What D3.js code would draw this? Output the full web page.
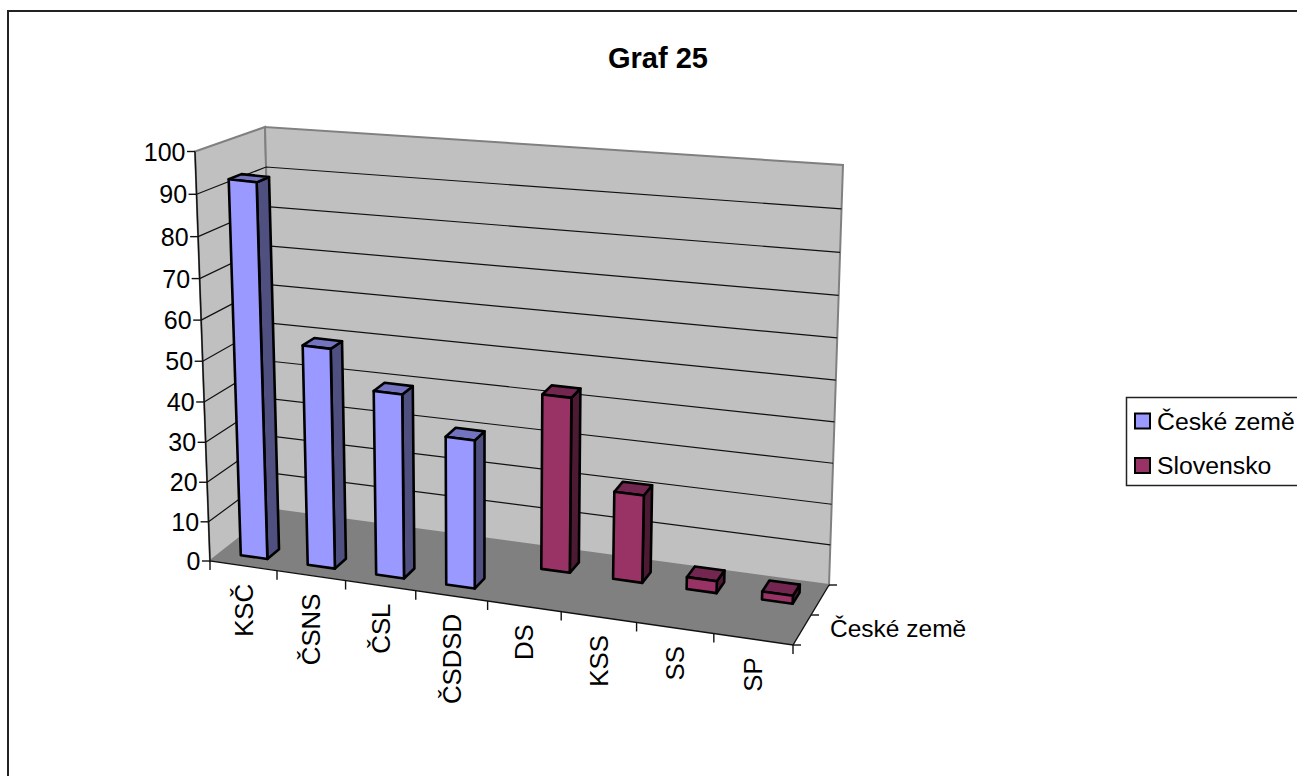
<!DOCTYPE html>
<html>
<head>
<meta charset="utf-8">
<script src="https://cdn.jsdelivr.net/npm/d3@7"></script>
<style>
  html, body { margin: 0; padding: 0; background: #fff; overflow: hidden; }
  text { font-family: "Liberation Sans", Arial, sans-serif; fill: #000; }
</style>
</head>
<body>
<div id="graph"></div>
<script>
const categories = ["KSČ", "ČSNS", "ČSL", "ČSDSD", "DS", "KSS", "SS", "SP"];
const seriesNames = ["České země", "Slovensko"];
const ceskeZeme = [93, 55, 46, 37, null, null, null, null];
const slovensko = [null, null, null, null, 44, 22, 3, 2];
const valueTicks = [0, 10, 20, 30, 40, 50, 60, 70, 80, 90, 100];

const width = 1297;
const height = 776;

// the box of the 3d plot on screen: f = front, b = back, l/r = left/right, 0/1 = floor/top
const fl0 = [210, 561], fl1 = [195, 151.5], fr0 = [793, 645], fr1 = [812, 222];
const bl0 = [275, 510], bl1 = [265, 127], br0 = [829, 585], br1 = [843, 165];

const perspectiveX = 1.1;
const perspectiveY = 1.05;
const warp = k => t => t / (t + (1 - t) * k);
const warpX = warp(perspectiveX);
const warpY = warp(perspectiveY);

const yScale = d3.scaleLinear().domain([0, 100]).range([0, 1]);
const xScale = d3.scaleBand().domain(categories).range([0, 1]);
const zScale = d3.scaleBand().domain(seriesNames).range([0.03, 0.96])
                 .paddingInner(0.6).paddingOuter(0.3);

// t across, v value, z depth (0 front, 1 back)
function project(t, v, z) {
  const u = warpX(t), h = warpY(yScale(v));
  const front = d3.interpolate(d3.interpolate(fl0, fr0)(u), d3.interpolate(fl1, fr1)(u))(h);
  const back = d3.interpolate(d3.interpolate(bl0, br0)(u), d3.interpolate(bl1, br1)(u))(h);
  return d3.interpolate(front, back)(z);
}

const line = d3.line();
const svg = d3.select("#graph").append("svg")
              .attr("width", width)
              .attr("height", height)
              .attr("viewBox", `0 0 ${width} ${height}`)
              .style("display", "block");

// outer frame, only top and left show in the window
svg.append("path")
   .attr("d", line([[8, height], [8, 11], [width, 11]]))
   .attr("fill", "none").attr("stroke", "#222").attr("stroke-width", 2);

svg.append("text")
   .attr("x", 658).attr("y", 67.5)
   .attr("text-anchor", "middle")
   .attr("font-size", 29).attr("font-weight", "bold")
   .text("Graf 25");

// walls and floor
const wallStyle = sel => sel.attr("fill", "#c0c0c0").attr("stroke", "#808080").attr("stroke-width", 2);
svg.append("path").attr("d", line([fl0, fl1, bl1, bl0]) + "Z").call(wallStyle);
svg.append("path").attr("d", line([bl0, bl1, br1, br0]) + "Z").call(wallStyle);
svg.append("path").attr("d", line([fl0, bl0, br0, fr0]) + "Z").attr("fill", "#808080");

// gridlines on both walls
svg.append("g").selectAll("path")
   .data(valueTicks.filter(d => d > 0 && d < 100))
   .join("path")
   .attr("d", d => line([project(0, d, 0), project(0, d, 1), project(1, d, 1)]))
   .attr("fill", "none").attr("stroke", "#111").attr("stroke-width", 1.2);

// axis lines
const axisStyle = sel => sel.attr("fill", "none").attr("stroke", "#111").attr("stroke-width", 1.4);
svg.append("path").attr("d", line([fl1, fl0, fr0, br0])).call(axisStyle);

// value axis
const yAxis = svg.append("g").selectAll("g").data(valueTicks).join("g");
yAxis.append("path")
     .attr("d", d => {
       const p = project(0, d, 0);
       return line([p, [p[0] - 8, p[1]]]);
     })
     .call(axisStyle);
yAxis.append("text")
     .attr("x", d => project(0, d, 0)[0] - 9.5)
     .attr("y", d => project(0, d, 0)[1])
     .attr("dy", "0.36em")
     .attr("text-anchor", "end")
     .attr("font-size", 25)
     .text(d => d);

// category axis
svg.append("g").selectAll("path")
   .data(d3.range(categories.length + 1))
   .join("path")
   .attr("d", i => {
     const p = project(i / categories.length, 0, 0);
     return line([p, [p[0], p[1] + 9]]);
   })
   .call(axisStyle);
svg.append("g").selectAll("text")
   .data(categories)
   .join("text")
   .attr("transform", d => {
     const p = project(xScale(d) + xScale.bandwidth() / 2, 0, 0);
     return `translate(${p[0]},${p[1] + 18}) rotate(-90)`;
   })
   .attr("dy", "0.36em")
   .attr("text-anchor", "end")
   .attr("font-size", 25.8)
   .text(d => d);

// depth axis
svg.append("g").selectAll("path")
   .data([0, 0.5, 1])
   .join("path")
   .attr("d", z => {
     const p = project(1, 0, z);
     return line([p, [p[0] + 8, p[1]]]);
   })
   .call(axisStyle);
const zLabel = project(1, 0, 0.25);
svg.append("text")
   .attr("x", zLabel[0] + 28).attr("y", zLabel[1] - 2)
   .attr("dy", "0.36em")
   .attr("font-size", 24.5)
   .text(seriesNames[0]);

// bars, back row first
const seriesColors = {
  "České země": { front: "#9999ff", side: "#4f4f80", top: "#7373bf" },
  "Slovensko": { front: "#993366", side: "#4d1a33", top: "#732650" }
};
const rows = [
  { name: seriesNames[1], values: slovensko },
  { name: seriesNames[0], values: ceskeZeme }
];
const barT = d3.scaleLinear().domain([0, 1]).range([0.3, 0.7]);

rows.forEach(row => {
  const z0 = zScale(row.name), z1 = z0 + zScale.bandwidth();
  const colors = seriesColors[row.name];
  const bars = row.values
    .map((v, i) => ({ v, cat: categories[i] }))
    .filter(d => d.v !== null);

  const g = svg.append("g").selectAll("g").data(bars).join("g")
               .attr("stroke", "#000").attr("stroke-width", 2.6).attr("stroke-linejoin", "round");
  const t0 = d => xScale(d.cat) + barT(0) * xScale.bandwidth();
  const t1 = d => xScale(d.cat) + barT(1) * xScale.bandwidth();

  g.append("path").attr("fill", colors.side)
   .attr("d", d => line([project(t1(d), 0, z0), project(t1(d), 0, z1),
                         project(t1(d), d.v, z1), project(t1(d), d.v, z0)]) + "Z");
  g.append("path").attr("fill", colors.top)
   .attr("d", d => line([project(t0(d), d.v, z0), project(t1(d), d.v, z0),
                         project(t1(d), d.v, z1), project(t0(d), d.v, z1)]) + "Z");
  g.append("path").attr("fill", colors.front)
   .attr("d", d => line([project(t0(d), 0, z0), project(t1(d), 0, z0),
                         project(t1(d), d.v, z0), project(t0(d), d.v, z0)]) + "Z");
});

// legend
svg.append("rect")
   .attr("x", 1126.5).attr("y", 397.5)
   .attr("width", 200).attr("height", 88)
   .attr("fill", "#fff").attr("stroke", "#222").attr("stroke-width", 1.5);
const legendY = d3.scalePoint().domain(seriesNames).range([421, 465.5]);
const legend = svg.append("g").selectAll("g").data(seriesNames).join("g")
                  .attr("transform", d => `translate(1135,${legendY(d)})`);
legend.append("rect")
      .attr("y", -7.5).attr("width", 15).attr("height", 15)
      .attr("fill", d => seriesColors[d].front)
      .attr("stroke", "#000").attr("stroke-width", 2);
legend.append("text")
      .attr("x", 22).attr("dy", "0.36em")
      .attr("font-size", 24.8)
      .text(d => d);
</script>
</body>
</html>
